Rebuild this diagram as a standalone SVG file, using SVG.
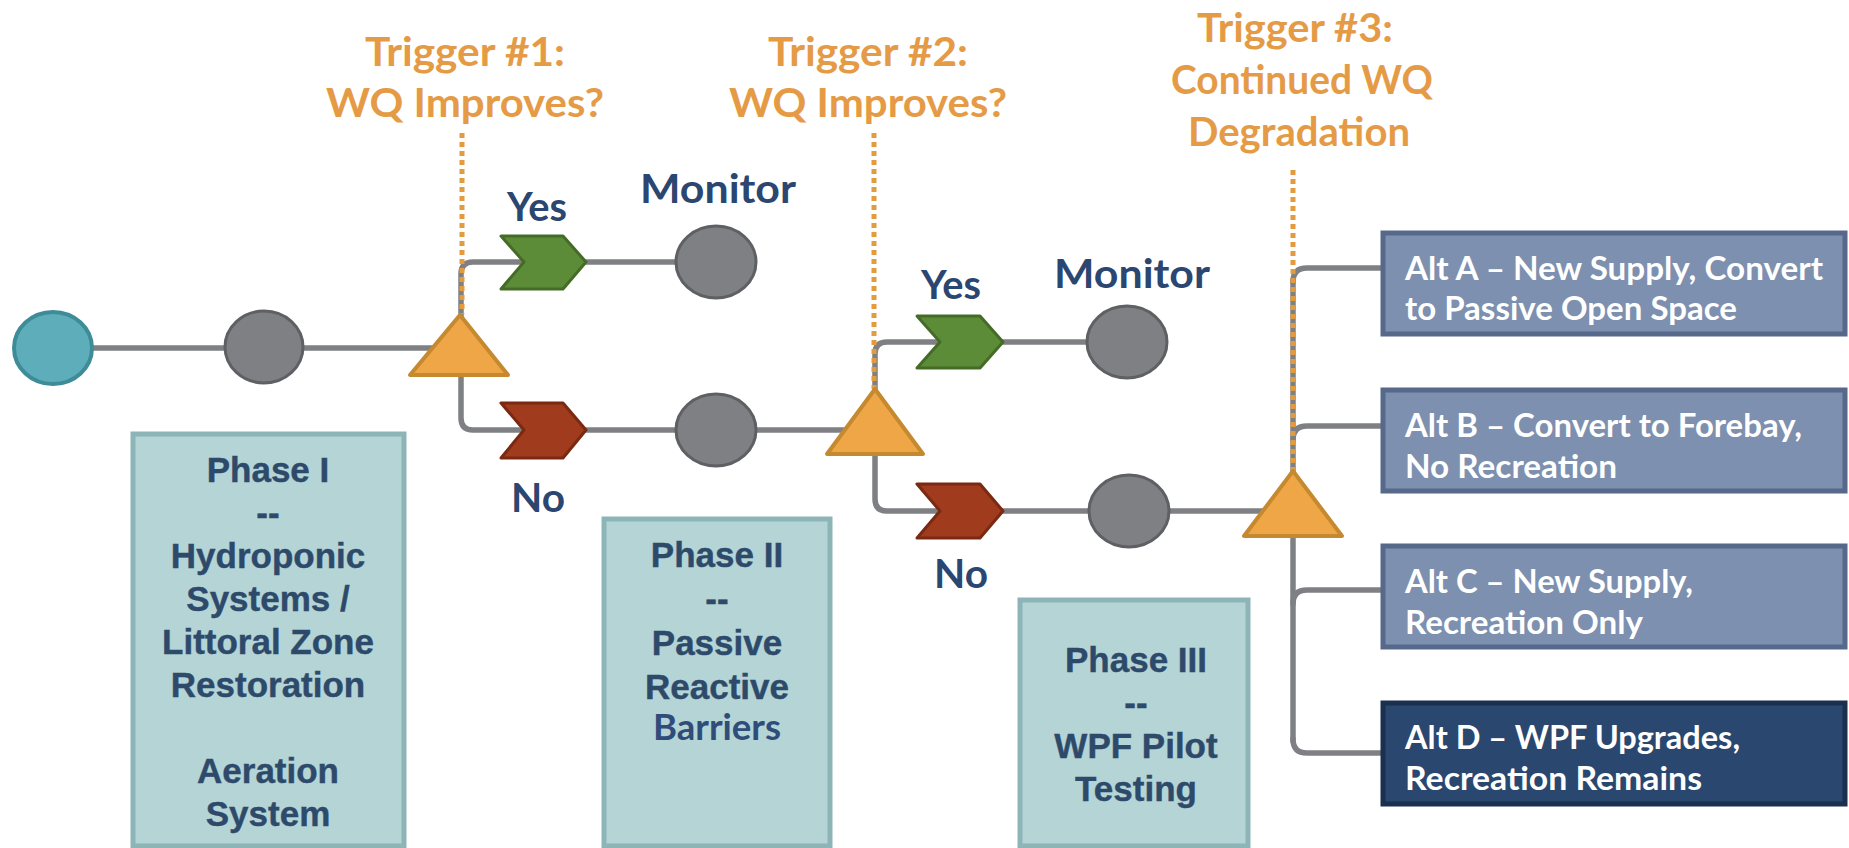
<svg xmlns="http://www.w3.org/2000/svg" width="1849" height="848" viewBox="0 0 1849 848">
<style>
.ln{fill:none;stroke:#7F8083;stroke-width:5.5;stroke-linecap:round}
.dot{fill:none;stroke:#E39B3E;stroke-width:5;stroke-dasharray:5 4}
.gc{fill:#7F8083;stroke:#5E6064;stroke-width:3}
.tri{fill:#EFA647;stroke:#C5892F;stroke-width:4;stroke-linejoin:round}
.gch{fill:#5D8C39;stroke:#456C27;stroke-width:3;stroke-linejoin:round}
.rch{fill:#A03B1D;stroke:#7A2912;stroke-width:3;stroke-linejoin:round}
.trig{font-family:Lato,"Open Sans","Liberation Sans",sans-serif;font-weight:700;font-size:41px;fill:#E59B45;text-anchor:middle}
.lbl{font-family:Lato,"Open Sans","Liberation Sans",sans-serif;font-weight:700;font-size:41px;fill:#2B4670;text-anchor:middle}
.phase{fill:#B4D4D6;stroke:#8DB4B7;stroke-width:5}
.pt{font-family:"Liberation Sans",Arial,sans-serif;font-weight:700;font-size:35px;fill:#2E4A6B;text-anchor:middle;stroke:#2E4A6B;stroke-width:0.4}
.alt{fill:#7D90AF;stroke:#56698A;stroke-width:5}
.altd{fill:#2A4770;stroke:#1B2F4E;stroke-width:5}
.at{font-family:Lato,"Open Sans","Liberation Sans",sans-serif;font-weight:700;font-size:33px;fill:#FFFFFF}
</style>

<g id="connectors">
<path class="ln" d="M93,348 H224" stroke-width="8"/>
<path class="ln" d="M304,348 H440"/>
<path class="ln" d="M461,330 V274 Q461,262 473,262 H676"/>
<path class="ln" d="M461,370 V418 Q461,430 473,430 H676"/>
<path class="ln" d="M756,430 H860"/>
<path class="ln" d="M875,400 V354 Q875,342 887,342 H1087"/>
<path class="ln" d="M875,445 V499 Q875,511 887,511 H1089"/>
<path class="ln" d="M1169,511 H1280"/>
<path class="ln" d="M1293,280 V741"/>
<path class="ln" d="M1293,282 Q1293,268 1307,268 H1381"/>
<path class="ln" d="M1293,440 Q1293,426 1307,426 H1381"/>
<path class="ln" d="M1293,604 Q1293,590 1307,590 H1381"/>
<path class="ln" d="M1293,739 Q1293,753 1307,753 H1381"/>
<path class="dot" d="M462,133 V314"/>
<path class="dot" d="M874,133 V389"/>
<path class="dot" d="M1293,170 V470"/>
</g>

<g id="trigger1-label">
<text class="trig" x="465" y="66" textLength="200" lengthAdjust="spacingAndGlyphs">Trigger #1:</text>
<text class="trig" x="465" y="117" textLength="278" lengthAdjust="spacingAndGlyphs">WQ Improves?</text>
</g>
<g id="trigger2-label">
<text class="trig" x="868" y="66" textLength="200" lengthAdjust="spacingAndGlyphs">Trigger #2:</text>
<text class="trig" x="868" y="117" textLength="278" lengthAdjust="spacingAndGlyphs">WQ Improves?</text>
</g>
<g id="trigger3-label">
<text class="trig" x="1295" y="42" textLength="196" lengthAdjust="spacingAndGlyphs">Trigger #3:</text>
<text class="trig" x="1302" y="94" textLength="262" lengthAdjust="spacingAndGlyphs">Continued WQ</text>
<text class="trig" x="1299" y="146" textLength="222" lengthAdjust="spacingAndGlyphs">Degradation</text>
</g>

<g id="start">
<ellipse cx="53" cy="348" rx="39" ry="36" fill="#5DADBA" stroke="#3F8C99" stroke-width="4"/>
</g>
<g id="step1">
<ellipse class="gc" cx="264" cy="347" rx="39" ry="36"/>
</g>
<g id="trigger1">
<polygon class="tri" points="460,315 410,375 508,375"/>
</g>
<g id="yes1">
<polygon class="gch" points="501,236 563,236 586,262 563,289 501,289 524,262"/>
<text class="lbl" x="537" y="221" textLength="60" lengthAdjust="spacingAndGlyphs">Yes</text>
</g>
<g id="monitor1">
<ellipse class="gc" cx="716" cy="262" rx="40" ry="36"/>
<text class="lbl" x="718" y="203" textLength="156" lengthAdjust="spacingAndGlyphs">Monitor</text>
</g>
<g id="no1">
<polygon class="rch" points="501,403 563,403 586,430 563,458 501,458 524,430"/>
<text class="lbl" x="538" y="512" textLength="54" lengthAdjust="spacingAndGlyphs">No</text>
</g>
<g id="step2">
<ellipse class="gc" cx="716" cy="430" rx="40" ry="36"/>
</g>
<g id="trigger2">
<polygon class="tri" points="875,389 827,454 923,454"/>
</g>
<g id="yes2">
<polygon class="gch" points="917,316 980,316 1003,342 980,368 917,368 940,342"/>
<text class="lbl" x="951" y="299" textLength="60" lengthAdjust="spacingAndGlyphs">Yes</text>
</g>
<g id="monitor2">
<ellipse class="gc" cx="1127" cy="342" rx="40" ry="36"/>
<text class="lbl" x="1132" y="288" textLength="156" lengthAdjust="spacingAndGlyphs">Monitor</text>
</g>
<g id="no2">
<polygon class="rch" points="917,484 980,484 1003,511 980,538 917,538 940,511"/>
<text class="lbl" x="961" y="588" textLength="54" lengthAdjust="spacingAndGlyphs">No</text>
</g>
<g id="step3">
<ellipse class="gc" cx="1129" cy="511" rx="40" ry="36"/>
</g>
<g id="trigger3">
<polygon class="tri" points="1293,471 1244,536 1342,536"/>
</g>

<g id="phase1">
<rect class="phase" x="133" y="434" width="271" height="412"/>
<text class="pt" x="268" y="482">Phase I</text>
<text class="pt" x="268" y="525">--</text>
<text class="pt" x="268" y="568">Hydroponic</text>
<text class="pt" x="268" y="611">Systems /</text>
<text class="pt" x="268" y="654">Littoral Zone</text>
<text class="pt" x="268" y="697">Restoration</text>
<text class="pt" x="268" y="783">Aeration</text>
<text class="pt" x="268" y="826">System</text>
</g>
<g id="phase2">
<rect class="phase" x="604" y="519" width="226" height="327"/>
<text class="pt" x="717" y="567">Phase II</text>
<text class="pt" x="717" y="611">--</text>
<text class="pt" x="717" y="655">Passive</text>
<text class="pt" x="717" y="699">Reactive</text>
<text x="717" y="740" font-family="Lato,'Open Sans','Liberation Sans',sans-serif" font-weight="700" font-size="37" fill="#2F4C7A" text-anchor="middle" textLength="128" lengthAdjust="spacingAndGlyphs">Barriers</text>
</g>
<g id="phase3">
<rect class="phase" x="1020" y="600" width="228" height="246"/>
<text class="pt" x="1136" y="672">Phase III</text>
<text class="pt" x="1136" y="715">--</text>
<text class="pt" x="1136" y="758">WPF Pilot</text>
<text class="pt" x="1136" y="801">Testing</text>
</g>

<g id="altA">
<rect class="alt" x="1383" y="233" width="462" height="101"/>
<text class="at" x="1405" y="280" textLength="418" lengthAdjust="spacingAndGlyphs">Alt A – New Supply, Convert</text>
<text class="at" x="1405" y="320" textLength="332" lengthAdjust="spacingAndGlyphs">to Passive Open Space</text>
</g>
<g id="altB">
<rect class="alt" x="1383" y="390" width="462" height="101"/>
<text class="at" x="1405" y="437" textLength="397" lengthAdjust="spacingAndGlyphs">Alt B – Convert to Forebay,</text>
<text class="at" x="1405" y="478" textLength="212" lengthAdjust="spacingAndGlyphs">No Recreation</text>
</g>
<g id="altC">
<rect class="alt" x="1383" y="546" width="462" height="101"/>
<text class="at" x="1405" y="593" textLength="288" lengthAdjust="spacingAndGlyphs">Alt C – New Supply,</text>
<text class="at" x="1405" y="634" textLength="238" lengthAdjust="spacingAndGlyphs">Recreation Only</text>
</g>
<g id="altD">
<rect class="altd" x="1383" y="703" width="462" height="101"/>
<text class="at" x="1405" y="749" textLength="335" lengthAdjust="spacingAndGlyphs">Alt D – WPF Upgrades,</text>
<text class="at" x="1405" y="790" textLength="297" lengthAdjust="spacingAndGlyphs">Recreation Remains</text>
</g>
</svg>
